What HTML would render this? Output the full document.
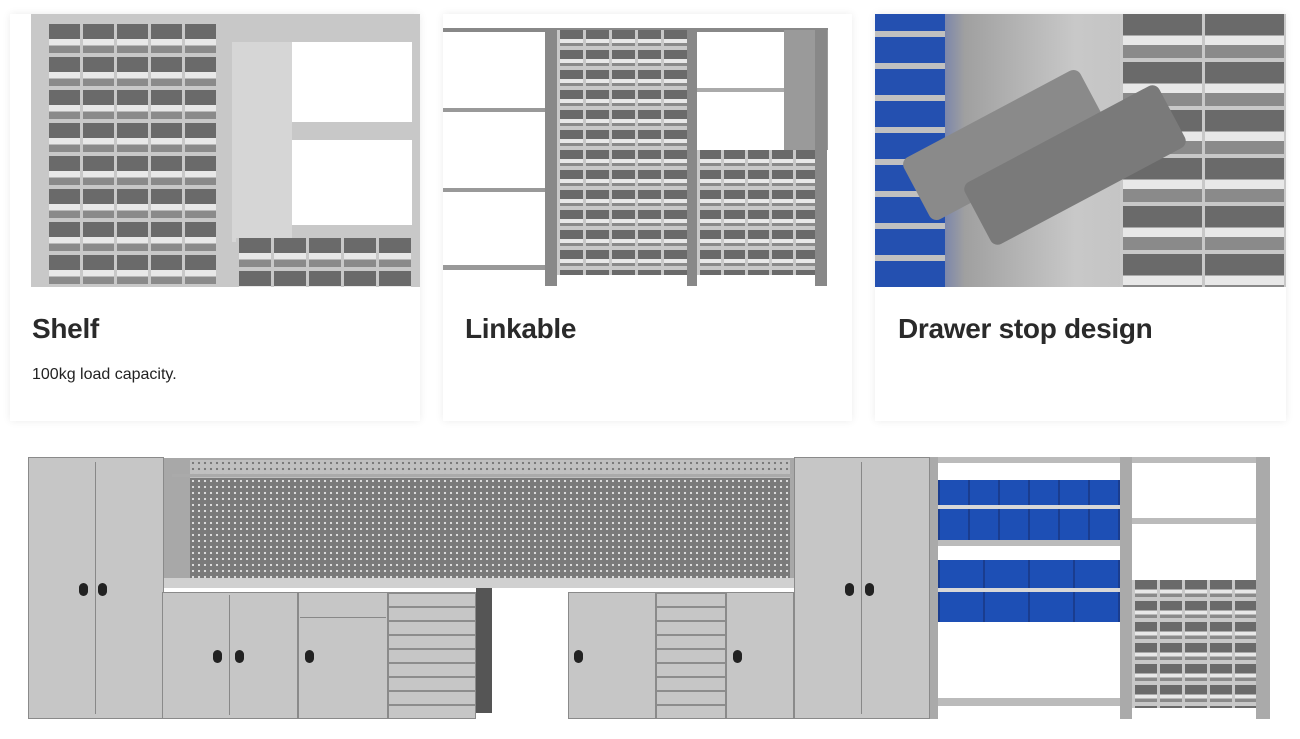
<!DOCTYPE html>
<html><head><meta charset="utf-8"><style>
body{margin:0;width:1300px;height:739px;background:#fff;position:relative;overflow:hidden;font-family:"Liberation Sans",sans-serif}
.a{position:absolute}
.card{position:absolute;top:14px;height:407px;background:#fff;box-shadow:0 0 8px rgba(0,0,0,.08)}
.t{position:absolute;top:313px;font-size:28px;font-weight:bold;color:#2a2a2a;letter-spacing:-.3px}
.dr{position:absolute;background-color:#c4c4c4;
 background-image:repeating-linear-gradient(0deg,#c8c8c8 0 4px,transparent 4px 100%),repeating-linear-gradient(90deg,#c8c8c8 0 3px,transparent 3px 100%),linear-gradient(#6a6a6a 0 45%,#e8e8e8 45% 65%,#8a8a8a 65%);}
.peg{position:absolute;background-color:#7a7a7a;background-image:radial-gradient(#e0e0e0 1px,transparent 1.3px);background-size:6px 6px}
.cab{position:absolute;background:#c6c6c6;border:1px solid #8a8a8a;box-sizing:border-box}
.k{position:absolute;width:9px;height:13px;border-radius:5px;background:#222}
.blue{position:absolute;background-color:#1d4fb5;background-image:repeating-linear-gradient(90deg,#1a3d8f 0 2px,transparent 2px 100%);}
</style></head><body>

<!-- card 1 -->
<div class="card" style="left:10px;width:410px"></div>
<div class="a" style="left:31px;top:14px;width:389px;height:273px;background:#c8c8c8"></div>
<div class="dr" style="left:46px;top:24px;width:172px;height:263px;background-size:100% 33px,34px 100%,100% 33px"></div>
<div class="a" style="left:232px;top:42px;width:60px;height:200px;background:#d6d6d6"></div>
<div class="a" style="left:292px;top:42px;width:120px;height:80px;background:#fff"></div>
<div class="a" style="left:292px;top:140px;width:120px;height:85px;background:#fff"></div>
<div class="dr" style="left:236px;top:238px;width:175px;height:49px;background-size:100% 33px,35px 100%,100% 33px"></div>
<div class="t" style="left:32px">Shelf</div>
<div class="a" style="left:32px;top:366px;font-size:16px;color:#222">100kg load capacity.</div>

<!-- card 2 -->
<div class="card" style="left:443px;width:409px"></div>
<div class="a" style="left:443px;top:28px;width:385px;height:4px;background:#888"></div>
<div class="a" style="left:443px;top:108px;width:110px;height:4px;background:#999"></div>
<div class="a" style="left:443px;top:188px;width:110px;height:4px;background:#999"></div>
<div class="a" style="left:443px;top:265px;width:110px;height:5px;background:#999"></div>
<div class="a" style="left:545px;top:28px;width:12px;height:258px;background:#888"></div>
<div class="dr" style="left:557px;top:30px;width:130px;height:245px;background-size:100% 20px,26px 100%,100% 20px"></div>
<div class="a" style="left:687px;top:28px;width:10px;height:258px;background:#888"></div>
<div class="a" style="left:697px;top:88px;width:120px;height:4px;background:#aaa"></div>
<div class="a" style="left:784px;top:30px;width:44px;height:120px;background:#9a9a9a"></div>
<div class="dr" style="left:697px;top:150px;width:120px;height:125px;background-size:100% 20px,24px 100%,100% 20px"></div>
<div class="a" style="left:815px;top:28px;width:12px;height:258px;background:#888"></div>
<div class="t" style="left:465px">Linkable</div>

<!-- card 3 -->
<div class="card" style="left:875px;width:411px"></div>
<div class="a" style="left:875px;top:14px;width:411px;height:273px;background:linear-gradient(90deg,#3a5ab0 0,#6a7ab0 60px,#a0a0a0 90px,#c8c8c8 200px,#b8b8b8 411px)"></div>
<div class="a" style="left:875px;top:14px;width:70px;height:273px;background:repeating-linear-gradient(0deg,#2450b0 0 26px,#c0c0c0 26px 32px)"></div>
<div class="dr" style="left:1120px;top:14px;width:166px;height:273px;background-size:100% 48px,82px 100%,100% 48px"></div>
<div class="a" style="left:905px;top:110px;width:200px;height:70px;background:#8a8a8a;transform:rotate(-28deg);border-radius:8px"></div>
<div class="a" style="left:965px;top:130px;width:220px;height:70px;background:#7a7a7a;transform:rotate(-28deg);border-radius:8px"></div>
<div class="t" style="left:898px">Drawer stop design</div>

<!-- bottom -->
<div class="cab" style="left:28px;top:457px;width:136px;height:262px"></div>
<div class="a" style="left:95px;top:462px;width:1px;height:252px;background:#888"></div>
<div class="k" style="left:79px;top:583px"></div><div class="k" style="left:98px;top:583px"></div>
<div class="a" style="left:164px;top:458px;width:630px;height:122px;background:#a8a8a8"></div>
<div class="peg" style="left:190px;top:478px;width:600px;height:100px"></div>
<div class="a" style="left:190px;top:460px;width:600px;height:18px;background-color:#c0c0c0;background-image:radial-gradient(#777 1px,transparent 1.3px);background-size:6px 6px"></div>
<div class="a" style="left:172px;top:474px;width:620px;height:3px;background:#aaa"></div>
<div class="a" style="left:164px;top:578px;width:630px;height:10px;background:#d0d0d0"></div>
<div class="cab" style="left:162px;top:592px;width:136px;height:127px"></div>
<div class="a" style="left:229px;top:595px;width:1px;height:120px;background:#888"></div>
<div class="k" style="left:213px;top:650px"></div><div class="k" style="left:235px;top:650px"></div>
<div class="cab" style="left:298px;top:592px;width:90px;height:127px"></div>
<div class="a" style="left:300px;top:617px;width:86px;height:1px;background:#888"></div>
<div class="k" style="left:305px;top:650px"></div>
<div class="cab" style="left:388px;top:592px;width:88px;height:127px;background:repeating-linear-gradient(0deg,#c6c6c6 0 12px,#8c8c8c 12px 14px)"></div>
<div class="a" style="left:476px;top:588px;width:92px;height:131px;background:#fff"></div>
<div class="a" style="left:476px;top:588px;width:16px;height:125px;background:#555"></div>
<div class="cab" style="left:568px;top:592px;width:88px;height:127px"></div>
<div class="k" style="left:574px;top:650px"></div>
<div class="cab" style="left:656px;top:592px;width:70px;height:127px;background:repeating-linear-gradient(0deg,#c6c6c6 0 12px,#8c8c8c 12px 14px)"></div>
<div class="cab" style="left:726px;top:592px;width:68px;height:127px"></div>
<div class="k" style="left:733px;top:650px"></div>
<div class="cab" style="left:794px;top:457px;width:136px;height:262px"></div>
<div class="a" style="left:861px;top:462px;width:1px;height:252px;background:#888"></div>
<div class="k" style="left:845px;top:583px"></div><div class="k" style="left:865px;top:583px"></div>
<div class="a" style="left:930px;top:457px;width:340px;height:6px;background:#bbb"></div>
<div class="a" style="left:930px;top:457px;width:8px;height:262px;background:#aaa"></div>
<div class="a" style="left:1120px;top:457px;width:12px;height:262px;background:#aaa"></div>
<div class="a" style="left:1256px;top:457px;width:14px;height:262px;background:#aaa"></div>
<div class="blue" style="left:938px;top:480px;width:182px;height:60px;background-size:30px 100%"></div>
<div class="a" style="left:938px;top:505px;width:182px;height:4px;background:#d8d8d8"></div>
<div class="a" style="left:938px;top:540px;width:182px;height:6px;background:#bbb"></div>
<div class="blue" style="left:938px;top:560px;width:182px;height:62px;background-size:45px 100%"></div>
<div class="a" style="left:938px;top:588px;width:182px;height:4px;background:#d8d8d8"></div>
<div class="a" style="left:938px;top:698px;width:182px;height:8px;background:#bbb"></div>
<div class="a" style="left:1132px;top:518px;width:124px;height:6px;background:#bbb"></div>
<div class="dr" style="left:1132px;top:580px;width:124px;height:128px;background-size:100% 21px,25px 100%,100% 21px"></div>
</body></html>
